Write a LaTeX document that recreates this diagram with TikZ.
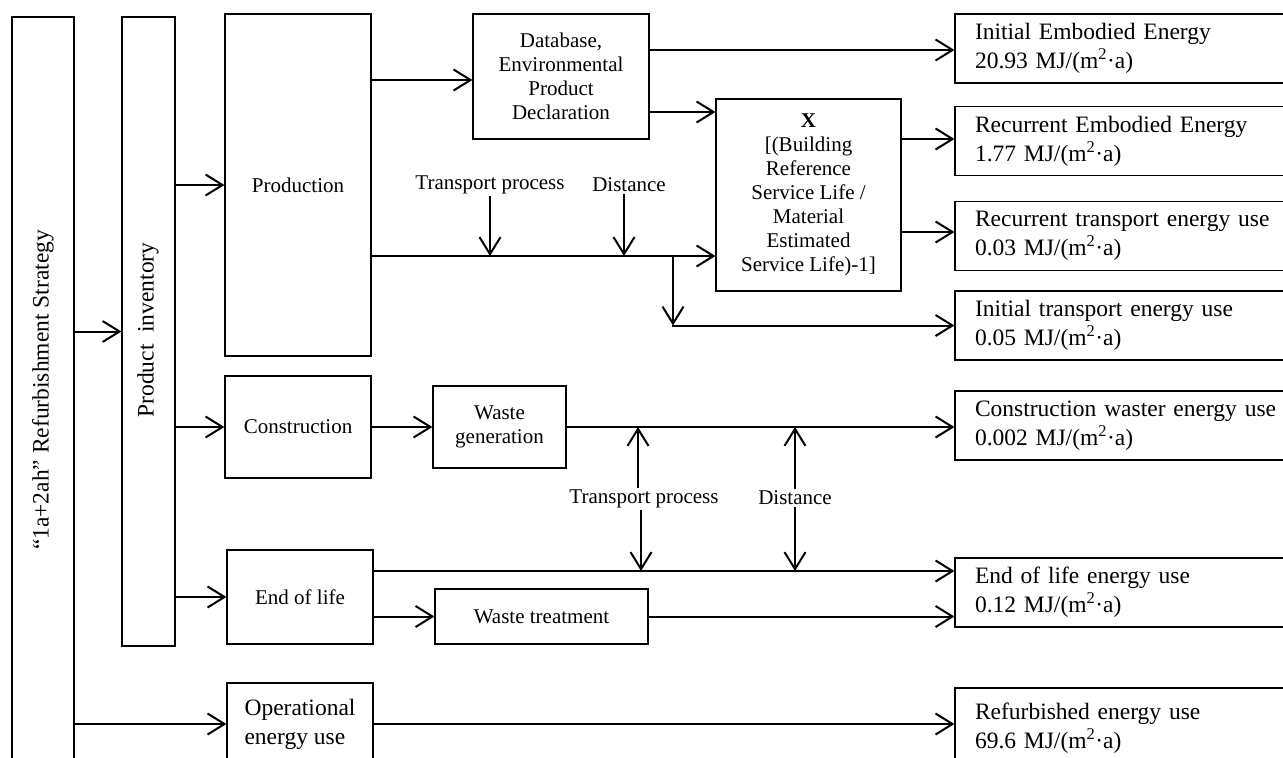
\documentclass[tikz,border=0pt]{standalone}
\usepackage{fontspec}
\setmainfont{Liberation Serif}
\usepackage{tikz}
\usetikzlibrary{arrows.meta}
\newcommand{\midfnt}{\fontsize{21}{24}\selectfont}
\newcommand{\bigfnt}{\fontsize{23.5}{29}\selectfont}
\tikzset{
  box/.style={draw, line width=1.1pt, inner sep=0pt, align=center},
  resbox/.style={draw, line width=1.1pt, inner ysep=0pt, inner xsep=20pt, text width=305pt, minimum height=69pt, align=left, font=\bigfnt},
  flow/.style={line width=2pt, -{Straight Barb[length=17pt,width=21pt]}},
  tag/.style={inner sep=2pt}
}
\begin{document}
\begin{tikzpicture}[x=1pt, y=-1pt, font=\midfnt]
      \useasboundingbox (0,0) rectangle (1283,758);
      \clip (0,0) rectangle (1283,758);
      \fill [white] (0,0) rectangle (1283,758);
      \node [box, minimum width=62pt, minimum height=746pt] (strategy) at (43,390) {};
      \node [rotate=90, font=\bigfnt] (strategytxt) at (strategy.center) {“1a+2ah” Refurbishment Strategy};
      \node [box, minimum width=53pt, minimum height=629pt] (inventory) at (148.5,331.5) {};
      \node [rotate=90, font=\bigfnt] (inventorytxt) at (148,330) {Product~~inventory};
      \node [box, minimum width=146pt, minimum height=342pt] (production) at (298,185) {Production};
      \node [box, minimum width=146pt, minimum height=102pt] (construction) at (298,427) {Construction};
      \node [box, minimum width=146pt, minimum height=94pt] (endlife) at (300,597) {End of life};
      \node [box, minimum width=146pt, minimum height=82pt, font=\bigfnt, align=left] (operational) at (300,724) {Operational\\energy use};
      \node [box, minimum width=176pt, minimum height=125pt] (database) at (561,76.5) {Database,\\Environmental\\Product\\Declaration};
      \node [box, minimum width=185pt, minimum height=192pt] (xbox) at (808.5,195) {\textbf{X}\\{[}(Building\\Reference\\Service Life /\\Material\\Estimated\\Service Life)-1]};
      \node [box, minimum width=133pt, minimum height=82pt] (wastegen) at (499.5,427) {Waste\\generation};
      \node [box, minimum width=213pt, minimum height=55pt] (wastetreat) at (541.5,616.5) {Waste treatment};
      \node [resbox] (initemb) at (1127.5,48.5) {Initial Embodied Energy\\20.93 MJ/(m\textsuperscript{2}·a)};
      \node [resbox] (recemb) at (1127.5,141) {Recurrent Embodied Energy\\1.77 MJ/(m\textsuperscript{2}·a)};
      \node [resbox] (rectrans) at (1127.5,236) {Recurrent transport energy use\\0.03 MJ/(m\textsuperscript{2}·a)};
      \node [resbox] (inittrans) at (1127.5,325.5) {Initial transport energy use\\0.05 MJ/(m\textsuperscript{2}·a)};
      \node [resbox] (conswaste) at (1127.5,425.5) {Construction waster energy use\\0.002 MJ/(m\textsuperscript{2}·a)};
      \node [resbox] (eolenergy) at (1127.5,592.5) {End of life energy use\\0.12 MJ/(m\textsuperscript{2}·a)};
      \node [resbox, minimum height=80pt] (refurb) at (1127.5,728) {Refurbished energy use\\69.6 MJ/(m\textsuperscript{2}·a)};
      \node [tag] (tp1) at (490,185) {Transport process};
      \node [tag] (dist1) at (629,185) {Distance};
      \node [tag] (tp2) at (644,499) {Transport process};
      \node [tag] (dist2) at (795,498) {Distance};
      \draw [flow] (strategy.east |- inventory.west) -- (inventory.west);
      \draw [flow] (strategy.east |- operational.west) -- (operational.west);
      \draw [flow] (inventory.east |- production.west) -- (production.west);
      \draw [flow] (inventory.east |- construction.west) -- (construction.west);
      \draw [flow] (inventory.east |- endlife.west) -- (endlife.west);
      \coordinate (dbin) at ([yshift=-3.5pt]database.west);
      \draw [flow] (production.east |- dbin) -- (dbin);
      \coordinate (dbtop) at ([yshift=26.5pt]database.east);
      \coordinate (dblow) at ([yshift=-35.5pt]database.east);
      \draw [flow] (dbtop) -- (dbtop -| initemb.west);
      \draw [flow] (dblow) -- (dblow -| xbox.west);
      \coordinate (xtop) at ([yshift=56pt]xbox.east);
      \coordinate (xlow) at ([yshift=-37pt]xbox.east);
      \draw [flow] (xtop) -- (xtop -| recemb.west);
      \draw [flow] (xlow) -- (xlow -| rectrans.west);
      \coordinate (trline) at ([yshift=-71pt]production.east);
      \draw [flow] (trline) -- (trline -| xbox.west);
      \draw [flow] (tp1.south) -- (tp1.south |- trline);
      \draw [flow] ([xshift=-5pt]dist1.south) -- ([xshift=-5pt]dist1.south |- trline);
      \coordinate (branch) at (673,256);
      \coordinate (branchend) at (branch |- inittrans.west);
      \draw [flow] (branch) -- (branchend);
      \draw [flow] ([xshift=-1pt]branchend) -- (inittrans.west);
      \draw [flow] (construction.east) -- (wastegen.west);
      \draw [flow] (wastegen.east) -- (wastegen.east -| conswaste.west);
      \draw [flow] ([xshift=-6pt]tp2.north) -- ([xshift=-6pt]tp2.north |- wastegen.east);
      \draw [flow] (dist2.north) -- (dist2.north |- wastegen.east);
      \coordinate (eolline) at ([yshift=26pt]endlife.east);
      \draw [flow] (eolline) -- (eolline -| eolenergy.west);
      \draw [flow] ([xshift=-3pt]tp2.south) -- ([xshift=-3pt]tp2.south |- eolline);
      \draw [flow] (dist2.south) -- (dist2.south |- eolline);
      \draw [flow] (endlife.east |- wastetreat.west) -- (wastetreat.west);
      \draw [flow] (wastetreat.east) -- (wastetreat.east -| eolenergy.west);
      \draw [flow] (operational.east) -- (operational.east -| refurb.west);
\end{tikzpicture}
\end{document}
